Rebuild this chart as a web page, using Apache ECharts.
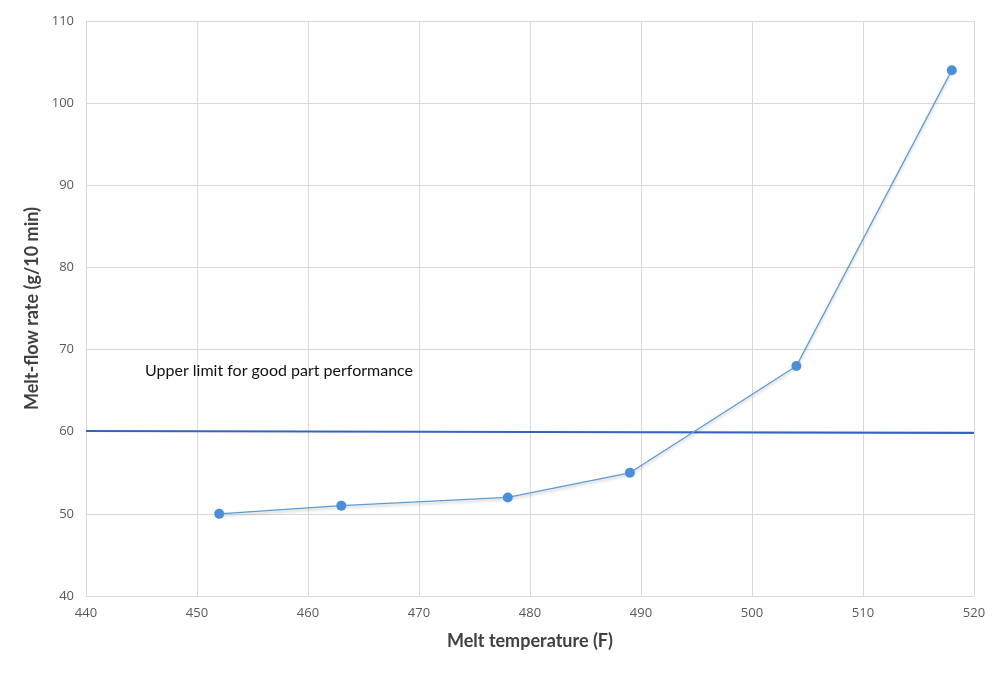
<!DOCTYPE html>
<html>
<head>
<meta charset="utf-8">
<script src="https://cdn.jsdelivr.net/npm/echarts@6/dist/echarts.min.js"></script>
<style>
  html, body { margin: 0; padding: 0; background: #fff; }
  #main { width: 1000px; height: 674px; }
</style>
</head>
<body>
<div id="main"></div>
<script>
// melt temperature (F) vs melt-flow rate
const temps = [452, 463, 478, 489, 504, 518];
const flowRates = [50, 51, 52, 55, 68, 104];

// upper limit line, drawn across the full x range
const limitX = [440, 520];
const limitY = [60.1, 59.85];
const limitLabel = 'Upper limit for good part performance';

const xTicks = { min: 440, max: 520, step: 10 };
const yTicks = { min: 40, max: 110, step: 10 };

const chart = echarts.init(document.getElementById('main'));

const tickFont = { color: '#595959', fontSize: 13, fontFamily: 'Open Sans' };
const titleFont = { fontSize: 18, fontWeight: 'bold', color: '#404040', fontFamily: 'Lato' };

const option = {
    animation: false,
    grid: { left: 86, right: 26, top: 21, bottom: 78 },
    xAxis: {
        type: 'value',
        min: xTicks.min, max: xTicks.max, interval: xTicks.step,
        name: 'Melt temperature (F)',
        nameLocation: 'middle',
        nameGap: 36,
        nameTextStyle: titleFont,
        axisLine: { lineStyle: { color: '#d9d9d9' } },
        axisTick: { show: false },
        axisLabel: Object.assign({ margin: 11 }, tickFont),
        splitLine: { lineStyle: { color: '#d9d9d9', width: 1 } }
    },
    yAxis: {
        type: 'value',
        min: yTicks.min, max: yTicks.max, interval: yTicks.step,
        name: 'Melt-flow rate (g/10 min)',
        nameLocation: 'middle',
        nameGap: 44,
        nameTextStyle: titleFont,
        axisLine: { show: true, lineStyle: { color: '#d9d9d9' } },
        axisTick: { show: false },
        axisLabel: Object.assign({ margin: 12 }, tickFont),
        splitLine: { lineStyle: { color: '#d9d9d9', width: 1 } }
    },
    series: [
        {
            name: 'Limit',
            type: 'line',
            data: limitX.map((x, i) => [x, limitY[i]]),
            symbol: 'none',
            lineStyle: { color: '#3563c4', width: 2 },
            z: 2
        },
        {
            name: 'Melt flow',
            type: 'line',
            data: temps.map((t, i) => [t, flowRates[i]]),
            symbol: 'circle',
            symbolSize: 10,
            itemStyle: { color: '#4a8fd8' },
            lineStyle: {
                color: '#5b9bd5', width: 1.3,
                shadowColor: 'rgba(0,0,0,0.25)', shadowBlur: 3, shadowOffsetY: 2
            },
            z: 3
        }
    ],
    graphic: [
        {
            type: 'text',
            left: 145,
            top: 363,
            z: 10,
            style: { text: limitLabel, fontSize: 16, fontFamily: 'Lato', fill: '#111' }
        }
    ]
};

chart.setOption(option);
</script>
</body>
</html>
